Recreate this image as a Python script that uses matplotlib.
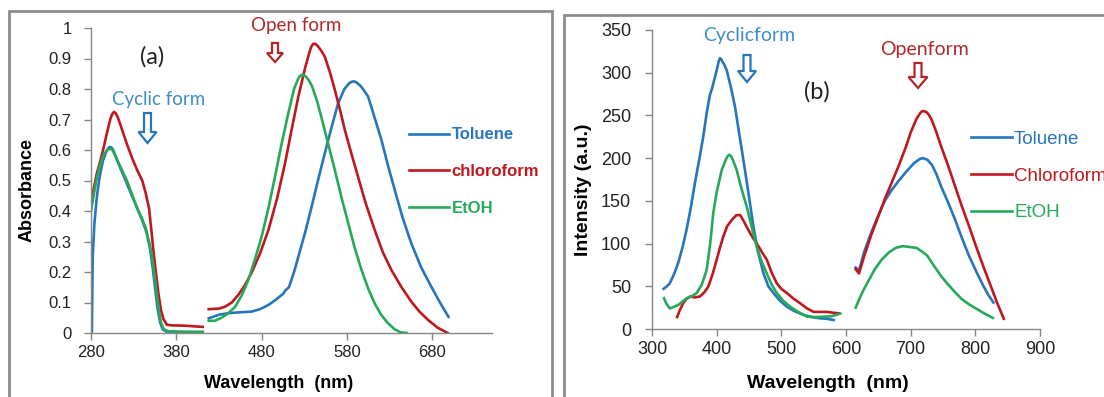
import numpy as np
import matplotlib.pyplot as plt
from matplotlib.patches import FancyArrow, Rectangle
from matplotlib.transforms import IdentityTransform

plt.rcParams['font.family'] = ['Liberation Sans', 'DejaVu Sans']

# ---- (a) absorbance spectra: cyclic band and open-form band per solvent ----
abs_tol_cyc_x = [280, 281, 282, 284, 287, 290, 294, 298, 300, 302, 304, 306, 310, 316, 322, 328, 334, 340, 345, 349, 352, 355, 358, 361, 364, 368, 380, 395, 411]
abs_tol_cyc_y = [0.0, 0.0, 0.25, 0.36, 0.45, 0.51, 0.565, 0.595, 0.605, 0.61, 0.608, 0.6, 0.57, 0.53, 0.49, 0.45, 0.41, 0.37, 0.33, 0.28, 0.22, 0.15, 0.08, 0.035, 0.012, 0.005, 0.003, 0.003, 0.002]
abs_chl_cyc_x = [280, 283, 287, 291, 295, 299, 303, 305, 307, 309, 311, 313, 316, 322, 328, 334, 340, 344, 348, 351, 353.5, 356, 359, 362, 365, 369, 375, 390, 400, 411]
abs_chl_cyc_y = [0.42, 0.47, 0.525, 0.565, 0.61, 0.66, 0.705, 0.718, 0.725, 0.72, 0.71, 0.695, 0.67, 0.62, 0.575, 0.535, 0.50, 0.46, 0.41, 0.33, 0.26, 0.20, 0.13, 0.075, 0.045, 0.027, 0.025, 0.024, 0.022, 0.02]
abs_eth_cyc_x = [280, 283, 287, 291, 295, 299, 301, 303, 305, 307, 312, 317, 322, 328, 334, 339, 344, 348, 351, 354, 357, 360, 362, 365, 370, 390, 411]
abs_eth_cyc_y = [0.40, 0.45, 0.51, 0.555, 0.585, 0.60, 0.603, 0.604, 0.6, 0.59, 0.56, 0.53, 0.50, 0.455, 0.41, 0.38, 0.345, 0.30, 0.26, 0.20, 0.13, 0.065, 0.035, 0.013, 0.006, 0.004, 0.004]

abs_tol_open_x = [418, 430, 441, 455, 468, 478, 488, 497, 505, 508, 512, 518, 523, 531, 538.6, 546, 554, 562, 569.6, 577, 583, 586, 588.4, 591, 596, 600, 604.8, 612, 620.4, 628, 636, 645, 655.4, 667, 678.8, 689, 699]
abs_tol_open_y = [0.048, 0.06, 0.065, 0.068, 0.07, 0.078, 0.092, 0.11, 0.128, 0.14, 0.15, 0.20, 0.25, 0.33, 0.414, 0.50, 0.589, 0.675, 0.753, 0.80, 0.82, 0.824, 0.825, 0.822, 0.81, 0.795, 0.775, 0.71, 0.633, 0.55, 0.469, 0.38, 0.294, 0.215, 0.152, 0.10, 0.053]
abs_chl_open_x = [418, 430, 437, 445, 452.7, 460, 468, 478, 488, 498, 507.4, 515, 523, 531, 536, 538, 540.5, 543, 546, 550, 554, 560, 565.8, 572, 577.5, 585, 593, 602, 612.5, 622, 632, 644, 655.4, 665, 675, 686, 698]
abs_chl_open_y = [0.078, 0.08, 0.086, 0.10, 0.125, 0.155, 0.196, 0.26, 0.338, 0.44, 0.556, 0.665, 0.775, 0.87, 0.92, 0.938, 0.948, 0.948, 0.94, 0.925, 0.906, 0.855, 0.797, 0.73, 0.666, 0.59, 0.512, 0.425, 0.338, 0.265, 0.207, 0.15, 0.103, 0.07, 0.043, 0.018, 0.0]
abs_eth_open_x = [418, 425, 433, 441, 449, 457, 464.4, 472, 480, 488, 495.6, 503, 511.2, 518, 523, 525, 527, 529.5, 532, 535.5, 539.2, 545, 550.9, 558, 565.8, 574, 581.5, 589, 597, 605, 612.5, 620, 628, 636, 643, 650]
abs_eth_open_y = [0.04, 0.04, 0.05, 0.065, 0.086, 0.125, 0.174, 0.24, 0.316, 0.41, 0.512, 0.615, 0.72, 0.80, 0.835, 0.843, 0.846, 0.845, 0.84, 0.828, 0.808, 0.76, 0.698, 0.62, 0.534, 0.44, 0.36, 0.28, 0.207, 0.145, 0.097, 0.06, 0.032, 0.012, 0.002, 0.0]

# ---- (b) emission spectra ----
em_tol_cyc_x = [318, 323, 327.5, 334, 340.4, 347, 353.4, 360, 366.3, 373, 379.2, 385, 389.6, 393, 397.4, 401, 403, 405, 407, 409, 412, 415.5, 422, 428.4, 435, 441.3, 449, 456.8, 464, 472.4, 480, 487.9, 498, 508.7, 520, 534.5, 547, 560, 570, 581]
em_tol_cyc_y = [47, 50, 53.5, 64, 77, 95, 116, 142, 170.6, 198, 225, 255, 274, 282, 295, 306, 313, 317, 316, 313, 309, 303, 283, 260, 228, 198, 160, 120, 90, 65, 50, 42, 33, 26, 21, 16.4, 14, 12.5, 12, 10.5]
em_chl_cyc_x = [338.8, 343, 348, 353, 358.5, 366, 374, 381, 387, 394, 400, 405, 410.2, 416, 423.3, 430, 436.2, 442, 449, 455, 462, 470, 477.6, 485, 493, 500, 508.7, 518, 529.3, 540, 550, 560, 570.8, 580, 588.8]
em_chl_cyc_y = [14, 22, 30, 35, 38, 37, 38, 43, 49.5, 65, 81, 95, 108, 120, 127.6, 133, 133.5, 126, 116, 108, 100, 90, 81, 66, 53.5, 47, 42, 36, 30, 24, 20, 20, 20, 19, 18.4]
em_eth_cyc_x = [318.6, 322, 327.5, 334, 340.4, 347, 353.4, 361, 369, 377, 384.5, 390, 394.7, 400, 407.8, 414, 417, 419.6, 422, 425, 431, 438, 446.6, 454, 462, 470, 477.6, 485, 493, 503, 513.8, 526, 539.8, 552, 565.5, 578, 591]
em_eth_cyc_y = [36, 30, 24, 26, 28, 32, 36, 38, 42, 52, 69, 100, 135.5, 160, 186, 198, 202.5, 204, 202.5, 198, 186, 165, 143, 120, 96, 78, 65, 52, 42, 33, 26, 20, 14.4, 14, 14.4, 15, 18]

em_tol_open_x = [615, 620, 628, 639, 650, 660, 671, 682, 693, 705, 714, 719, 726, 733, 740, 747, 758, 768.7, 779, 790, 801, 812, 820, 828]
em_tol_open_y = [72, 68, 90, 113, 133, 150, 163, 174, 184, 194, 199, 200, 198, 192, 181, 167, 148, 128, 107, 86, 68, 51, 40, 31]
em_chl_open_x = [615, 620, 628, 639, 650, 660, 671, 682, 693, 700, 709, 715, 718, 721, 724, 728, 733, 739, 747, 758, 768.7, 779, 790, 801, 812, 823, 833.5, 844]
em_chl_open_y = [70, 65, 85, 110, 132, 152, 172, 192, 214, 230, 246, 253, 255, 255, 254, 251, 244, 232, 214, 191, 167, 144, 121, 97, 74, 52, 31, 12]
em_eth_open_x = [615, 621, 628, 636, 644.5, 655, 666, 677, 687.7, 698, 709, 717, 725.5, 736, 747, 758, 768.7, 779, 790, 801, 812, 827]
em_eth_open_y = [25, 36, 47, 58, 70, 81, 89.5, 95, 97, 96, 95, 91, 86, 74, 62, 52, 43, 35, 29, 24, 19, 13]

BLUE = '#2676be'
RED = '#c0181e'
GREEN = '#26aa5a'
AXIS_GREY = '#868686'
FRAME_GREY = '#8c8c8c'
NOTE_BLUE = '#3d8ccc'
NOTE_RED = '#b0282a'

W, H = 1104, 397
fig = plt.figure(figsize=(W / 100, H / 100), dpi=100)


def px_box(x0, y0, x1, y1):
    # axes rectangle from image-style pixel corners (y measured from the top)
    return [x0 / W, (H - y1) / H, (x1 - x0) / W, (y1 - y0) / H]


def style_axes(ax, tick_size, ypad):
    for side in ('top', 'right'):
        ax.spines[side].set_visible(False)
    for side in ('left', 'bottom'):
        ax.spines[side].set_color(AXIS_GREY)
        ax.spines[side].set_linewidth(1.0)
    ax.tick_params(direction='out', length=5, width=1, color=AXIS_GREY,
                   labelsize=tick_size, labelcolor='#222222')
    ax.tick_params(axis='y', pad=ypad)


def hollow_arrow(x, y_top, y_tip, color, width=7, head_width=18, head_length=11):
    arr = FancyArrow(x, H - y_top, 0, -(y_tip - y_top), width=width,
                     head_width=head_width, head_length=head_length,
                     length_includes_head=True, fc='white', ec=color, lw=1.6,
                     transform=IdentityTransform())
    fig.add_artist(arr)


def note(x, y, text, color, size):
    fig.text(x / W, (H - y) / H, text, fontsize=size, ha='center', va='center',
             family='Lato', color=color)


# chart-area frames
fig.add_artist(Rectangle((9, -10), 543, H - 11 + 10, fill=False, ec=FRAME_GREY, lw=2,
                         transform=IdentityTransform()))
fig.add_artist(Rectangle((564, -10), 600, H - 15 + 10, fill=False, ec=FRAME_GREY, lw=2,
                         transform=IdentityTransform()))

lw = 1.9

# ---------------- panel (a) ----------------
ax1 = fig.add_axes(px_box(91, 28, 492, 333))
ax1.plot(abs_tol_cyc_x, abs_tol_cyc_y, color=BLUE, lw=lw, label='Toluene')
ax1.plot(abs_chl_cyc_x, abs_chl_cyc_y, color=RED, lw=lw, label='chloroform')
ax1.plot(abs_eth_cyc_x, abs_eth_cyc_y, color=GREEN, lw=lw, label='EtOH')
ax1.plot(abs_tol_open_x, abs_tol_open_y, color=BLUE, lw=lw)
ax1.plot(abs_chl_open_x, abs_chl_open_y, color=RED, lw=lw)
ax1.plot(abs_eth_open_x, abs_eth_open_y, color=GREEN, lw=lw)
ax1.set_xlim(280, 750)
ax1.set_ylim(0, 1)
ax1.set_xticks(np.arange(280, 681, 100))
ax1.set_yticks(np.round(np.arange(0, 1.01, 0.1), 1))
ax1.set_yticklabels(['0'] + ['%.1f' % v for v in np.arange(0.1, 0.95, 0.1)] + ['1'])
style_axes(ax1, 12, 9)
ax1.set_xlabel('Wavelength  (nm)', fontsize=13, fontweight='bold', va='center')
ax1.set_ylabel('Absorbance', fontsize=13, fontweight='bold', va='center')
ax1.xaxis.set_label_coords(0.469, (333 - 383) / 305)
ax1.yaxis.set_label_coords((27 - 91) / 401, 0.47)

ax1.legend(loc='center left', bbox_to_anchor=(409 / W, (H - 171.5) / H),
           bbox_transform=fig.transFigure, frameon=False, handlelength=2.4,
           handletextpad=0.15, labelspacing=1.3, borderpad=0, borderaxespad=0,
           labelcolor='linecolor', prop={'size': 12, 'weight': 'bold'})

note(152.5, 57, '(a)', '#222222', 17)
note(159, 99, 'Cyclic form', NOTE_BLUE, 13.5)
note(296, 25, 'Open form', NOTE_RED, 13.5)
hollow_arrow(147.5, 113, 143, BLUE)
hollow_arrow(275, 43, 62, NOTE_RED, width=6, head_width=16, head_length=9)

# ---------------- panel (b) ----------------
ax2 = fig.add_axes(px_box(652, 30, 1040, 329))
ax2.plot(em_tol_cyc_x, em_tol_cyc_y, color=BLUE, lw=lw, label='Toluene')
ax2.plot(em_chl_cyc_x, em_chl_cyc_y, color=RED, lw=lw, label='Chloroform')
ax2.plot(em_eth_cyc_x, em_eth_cyc_y, color=GREEN, lw=lw, label='EtOH')
ax2.plot(em_tol_open_x, em_tol_open_y, color=BLUE, lw=lw)
ax2.plot(em_chl_open_x, em_chl_open_y, color=RED, lw=lw)
ax2.plot(em_eth_open_x, em_eth_open_y, color=GREEN, lw=lw)
ax2.set_xlim(300, 900)
ax2.set_ylim(0, 350)
ax2.set_xticks(np.arange(300, 901, 100))
ax2.set_yticks(np.arange(0, 351, 50))
style_axes(ax2, 13, 10)
ax2.set_xlabel('Wavelength  (nm)', fontsize=14, fontweight='bold', va='center')
ax2.set_ylabel('Intensity (a.u.)', fontsize=14, fontweight='bold', va='center')
ax2.xaxis.set_label_coords(0.454, (329 - 383) / 299)
ax2.yaxis.set_label_coords((584 - 652) / 388, 0.465)

ax2.legend(loc='center left', bbox_to_anchor=(971 / W, (H - 176) / H),
           bbox_transform=fig.transFigure, frameon=False, handlelength=2.2,
           handletextpad=0.1, labelspacing=1.05, borderpad=0, borderaxespad=0,
           labelcolor='linecolor', prop={'size': 13.5})

note(817, 92, '(b)', '#222222', 17)
note(749, 36, 'Cyclicform', NOTE_BLUE, 14)
note(924, 49, 'Openform', NOTE_RED, 14)
hollow_arrow(747, 55, 82, BLUE)
hollow_arrow(918, 63, 88, NOTE_RED, width=7, head_width=19, head_length=11)

fig.savefig('out.png', dpi=100)
